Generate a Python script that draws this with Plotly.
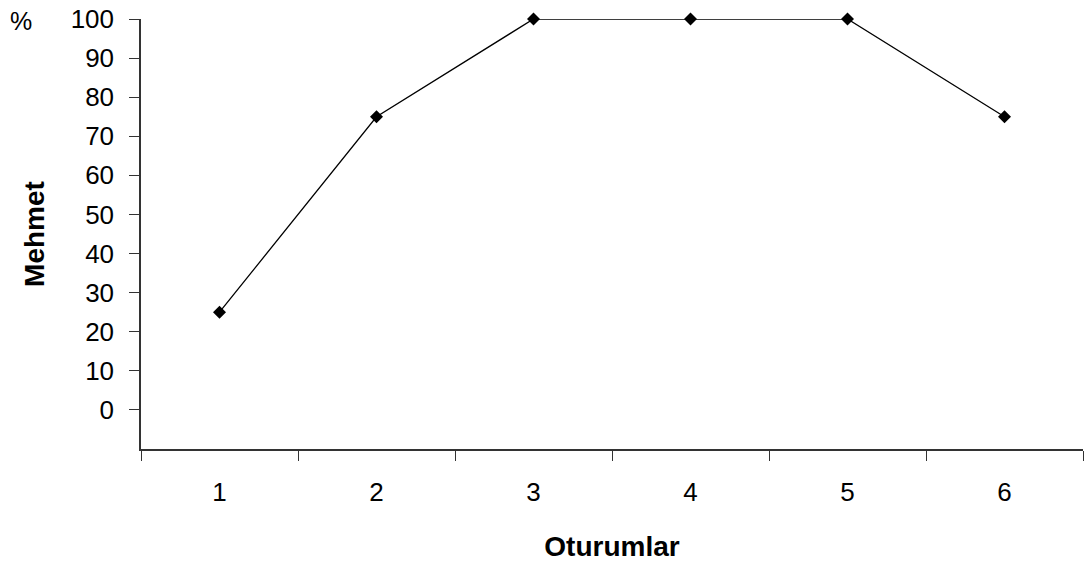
import plotly.graph_objects as go

sessions = ["1", "2", "3", "4", "5", "6"]
percent = [25, 75, 100, 100, 100, 75]
y_ticks = [0, 10, 20, 30, 40, 50, 60, 70, 80, 90, 100]

fig = go.Figure()
fig.add_trace(go.Scatter(
    x=sessions, y=percent, mode="lines+markers",
    line=dict(color="black", width=1.3),
    marker=dict(symbol="diamond", size=10, color="black"),
    cliponaxis=False, showlegend=False,
))

font_family = "Liberation Sans, Arial, sans-serif"
fig.update_layout(
    width=1087, height=568,
    margin=dict(l=141, r=4, t=19, b=119, autoexpand=False),
    paper_bgcolor="white", plot_bgcolor="white",
    font=dict(family=font_family, color="black", size=26),
    xaxis=dict(
        type="category", tickson="boundaries", automargin=False,
        range=[-0.5, len(sessions) - 0.5],
        showline=True, linecolor="#333", linewidth=1.5,
        ticks="outside", ticklen=10, tickcolor="#333",
        showgrid=False, zeroline=False,
        tickfont=dict(size=26), ticklabelstandoff=19,
        title=dict(text="<b>Oturumlar</b>", font=dict(size=28), standoff=30),
    ),
    yaxis=dict(
        range=[-10, 100], tickvals=y_ticks, automargin=False,
        ticklabeloverflow="allow",
        showline=True, linecolor="#333", linewidth=1.5,
        ticks="outside", ticklen=10, tickcolor="#333",
        showgrid=False, zeroline=False,
        tickfont=dict(size=26), ticklabelstandoff=10,
        title=dict(text="<b>Mehmet</b>", font=dict(size=28), standoff=18),
    ),
    annotations=[dict(
        text="%", xref="paper", yref="paper", x=-0.127, y=0.995,
        showarrow=False, font=dict(size=25), xanchor="center", yanchor="middle",
    )],
)

fig.write_html(
    "out.html",
    config={"displayModeBar": False},
    post_script="document.body.style.margin='0';document.body.style.overflow='hidden';",
)
